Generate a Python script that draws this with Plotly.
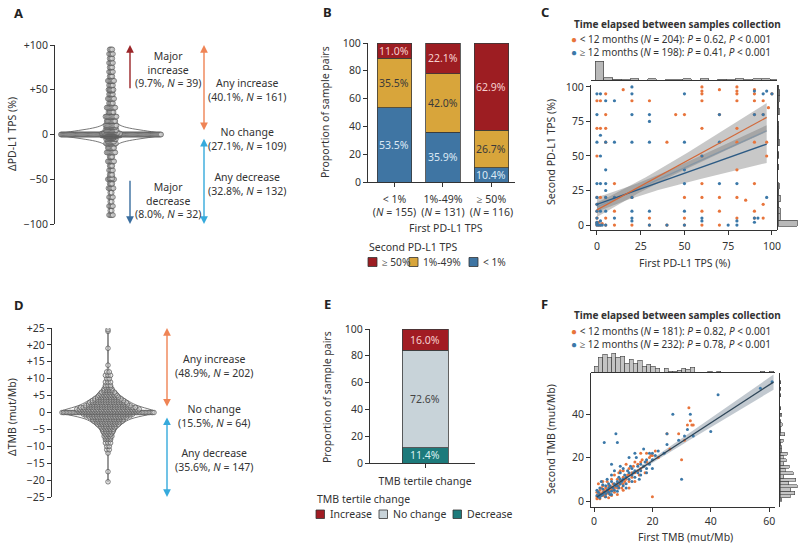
import numpy as np
import plotly.graph_objects as go

W, H = 800, 548
FONT = "Noto Sans"
INK = "#333333"
FS = 10.5

# ---------------- Panel A : change in PD-L1 TPS (value, number of pairs)
a_delta = [-90, -85, -80, -75, -70, -65, -60, -55, -50, -49, -45, -40, -35, -30, -25, -20, -15, -10, -8, -5, -4, -3, -2, -1,
           0, 1, 2, 3, 4, 5, 8, 10, 15, 20, 25, 30, 35, 40, 45, 49, 50, 55, 60, 65, 70, 75, 80, 85, 90, 95]
a_count = [4, 2, 4, 2, 4, 2, 5, 3, 6, 3, 3, 4, 3, 6, 3, 8, 6, 9, 6, 9, 5, 7, 10, 18,
           109, 20, 12, 8, 6, 10, 8, 10, 8, 10, 5, 8, 4, 6, 4, 3, 5, 4, 6, 3, 4, 3, 4, 3, 4, 3]
a_ticks = [-100, -50, 0, 50, 100]
a_ticktext = ["\u2212100", "\u221250", "0", "+50", "+100"]
a_major_up = ("Major<br>increase<br>(9.7%, <i>N</i> = 39)", 50, 100)
a_major_down = ("Major<br>decrease<br>(8.0%, <i>N</i> = 32)", -50, -100)
a_any_up = ("Any increase<br>(40.1%, <i>N</i> = 161)", 3, 100)
a_nochange = "No change<br>(27.1%, <i>N</i> = 109)"
a_any_down = ("Any decrease<br>(32.8%, <i>N</i> = 132)", -3, -100)

# ---------------- Panel B : PD-L1 TPS category transitions (%)
b_categories = ["&lt; 1%<br>(<i>N</i> = 155)", "1%-49%<br>(<i>N</i> = 131)", "\u2265 50%<br>(<i>N</i> = 116)"]
b_lt1 = [53.5, 35.9, 10.4]
b_1to49 = [35.5, 42.0, 26.7]
b_ge50 = [11.0, 22.1, 62.9]
b_legend = ["\u2265 50%", "1%-49%", "&lt; 1%"]

# ---------------- Panel C : first vs second PD-L1 TPS (first, second, count)
c_lt12_first = [0, 0, 0, 0, 0, 0, 0, 0, 0, 0, 1, 1, 2, 2, 2, 2, 3, 5, 5, 5, 5, 5, 5, 5, 10, 10, 10, 10, 15, 20, 20, 20,
                30, 30, 30, 40, 40, 45, 50, 50, 50, 50, 60, 60, 60, 60, 60, 60, 60, 60, 60, 60, 70, 70, 70, 70, 70,
                80, 80, 80, 80, 80, 80, 80, 80, 80, 85, 90, 90, 90, 90, 90, 90, 90, 90, 95, 95, 95, 95, 97, 97, 100, 98]
c_lt12_second = [0, 1, 2, 5, 10, 15, 20, 50, 70, 90, 0, 2, 0, 20, 90, 70, 1, 0, 5, 20, 80, 95, 70, 60, 0, 10, 30, 20, 98, 90, 20, 0,
                 0, 5, 90, 60, 0, 80, 80, 20, 5, 0, 100, 97, 95, 90, 70, 50, 30, 20, 10, 0, 98, 80, 20, 10, 0,
                 100, 97, 95, 90, 70, 60, 40, 20, 5, 18, 98, 95, 90, 80, 60, 30, 10, 5, 90, 80, 15, 5, 50, 60, 95, 85]
c_lt12_n = [50, 6, 4, 5, 4, 3, 2, 2, 2, 2, 8, 3, 4, 2, 1, 1, 2, 3, 2, 1, 1, 1, 1, 1, 2, 2, 1, 1, 1, 1, 1, 1,
            3, 2, 1, 1, 1, 1, 1, 1, 1, 2, 1, 1, 1, 1, 1, 1, 1, 1, 1, 2, 1, 1, 1, 1, 1,
            1, 1, 1, 1, 1, 1, 1, 1, 1, 1, 1, 1, 1, 1, 1, 1, 1, 1, 1, 1, 1, 1, 1, 1, 1, 1]
c_ge12_first = [0, 0, 0, 0, 0, 0, 0, 0, 0, 0, 0, 1, 2, 2, 2, 2, 2, 2, 3, 2, 5, 5, 5, 5, 5, 5, 5, 5, 10, 10, 10, 10,
                20, 20, 20, 20, 20, 20, 20, 20, 30, 30, 30, 30, 30, 40, 50, 50, 50, 50, 50, 50, 60, 60, 60, 70, 70, 70, 75,
                80, 80, 80, 90, 90, 90, 90, 92, 95, 95, 97, 97, 100]
c_ge12_second = [0, 1, 2, 5, 10, 15, 20, 30, 60, 80, 95, 0, 0, 10, 30, 50, 65, 95, 0, 3, 0, 20, 25, 30, 40, 60, 90, 10, 20, 5, 90, 60,
                 100, 95, 80, 60, 20, 10, 5, 3, 80, 75, 60, 10, 0, 0, 95, 60, 30, 40, 10, 0, 50, 5, 3, 60, 30, 80, 0,
                 30, 3, 0, 97, 80, 5, 2, 5, 95, 80, 20, 97, 95]
c_ge12_n = [42, 5, 4, 4, 4, 3, 3, 2, 2, 2, 1, 6, 4, 2, 1, 1, 1, 1, 3, 2, 3, 2, 1, 1, 1, 1, 1, 1, 1, 1, 1, 1,
            1, 1, 1, 1, 1, 1, 1, 1, 1, 1, 1, 1, 1, 1, 1, 1, 1, 1, 1, 1, 1, 1, 1, 1, 1, 1, 1,
            1, 1, 1, 1, 1, 1, 1, 1, 1, 1, 1, 1, 1]
c_fit_lt12 = (11.0, 0.69)   # intercept, slope
c_fit_ge12 = (15.0, 0.45)
c_fit_all = (13.0, 0.57)
c_fit_xmax = 97
c_legend = ["&lt; 12 months (<i>N</i> = 204): <i>P</i> = 0.62, <i>P</i> &lt; 0.001",
            "\u2265 12 months (<i>N</i> = 198): <i>P</i> = 0.41, <i>P</i> &lt; 0.001"]

# ---------------- Panel D : change in TMB (value, number of pairs)
d_delta = [-20.5, -17.5, -12, -11, -10, -9, -8, -7.5, -7, -6.5, -6, -5.5, -5, -4.5, -4, -3.5, -3, -2.5, -2, -1.5, -1, -0.5,
           0, 0.5, 1, 1.5, 2, 2.5, 3, 3.5, 4, 4.5, 5, 5.5, 6, 6.5, 7, 7.5, 8, 9, 10, 11, 12, 14, 19, 24, 24.5]
d_count = [1, 1, 1, 2, 2, 3, 3, 3, 4, 3, 4, 5, 5, 6, 7, 9, 10, 12, 13, 15, 18, 20,
           64, 24, 25, 22, 18, 16, 15, 13, 11, 9, 8, 7, 6, 4, 4, 3, 3, 3, 2, 3, 2, 1, 1, 1, 1]
d_ticks = [-25, -20, -15, -10, -5, 0, 5, 10, 15, 20, 25]
d_ticktext = ["\u221225", "\u221220", "\u221215", "\u221210", "\u22125", "0", "+5", "+10", "+15", "+20", "+25"]
d_any_up = ("Any increase<br>(48.9%, <i>N</i> = 202)", 1.3, 25)
d_nochange = "No change<br>(15.5%, <i>N</i> = 64)"
d_any_down = ("Any decrease<br>(35.6%, <i>N</i> = 147)", -1.0, -25)

# ---------------- Panel E : TMB tertile change (%)
e_category = ["TMB tertile change"]
e_decrease = [11.4]
e_nochange = [72.6]
e_increase = [16.0]
e_legend = ["Increase", "No change", "Decrease"]

# ---------------- Panel F : first vs second TMB (mut/Mb)
f_lt12_first = [1, 1, 1.5, 1.5, 2, 2, 2, 2.5, 2.5, 3, 3, 3, 3.5, 3.5, 4, 4, 4, 4.5, 4.5, 5, 5, 5, 5.5, 5.5, 6, 6, 6, 6.5, 6.5,
                7, 7, 7, 7, 7.5, 8, 8, 8, 8.5, 8.5, 9, 9, 9.5, 10, 10, 10, 10.5, 11, 11, 11.5, 12, 12, 12, 13, 13, 13.5,
                14, 14, 15, 15, 15.5, 16, 16, 16.5, 17, 17.5, 18, 18, 19, 19.5, 20, 20, 21, 22, 25, 26, 29, 30, 31, 32,
                32.5, 33, 33.5, 34, 3, 5, 8, 9, 12, 14, 16, 2, 1, 1.2, 3.8, 6, 10]
f_lt12_second = [2, 4, 3, 8, 2, 5, 3.5, 3, 6, 2.5, 4, 7, 3, 5, 3, 4.5, 6, 4, 9, 3.5, 5, 7, 4.5, 6, 5, 6.5, 10, 5.5, 8,
                 4, 6, 7.5, 12, 6.5, 6, 8, 10, 7, 13, 8, 9.5, 6, 8, 11, 14, 9, 10, 17, 12, 9, 12, 15, 11, 13, 16,
                 13, 18, 14, 17, 12, 15, 18, 19, 16, 13, 18, 22, 20, 21, 2, 21, 23, 20, 31, 24, 31, 19, 28, 35,
                 43, 37, 35, 35, 9, 1.5, 3, 14, 6, 9, 22, 1, 1, 2.5, 2, 2.5, 5]
f_ge12_first = [1, 1, 1.5, 1.5, 2, 2, 2.5, 2.5, 3, 3, 3.5, 3.5, 4, 4, 4.5, 4.5, 5, 5, 5, 5.5, 5.5, 6, 6, 6, 6.5, 7, 7, 7,
                7.5, 7.5, 8, 8, 8, 8.5, 8.5, 9, 9, 9, 9.5, 10, 10, 10, 10.5, 11, 11, 11.5, 12, 12, 12.5, 13, 13, 13,
                13.5, 14, 14, 14.5, 15, 15, 15.5, 16, 16, 17, 17, 17.5, 18, 18, 19, 19, 20, 20, 21, 22, 24, 25, 25,
                27, 29, 30, 31, 32, 33, 34, 40, 42.5, 57, 61, 2, 4, 6, 8, 11, 16, 18, 12, 6, 3, 9, 14, 20]
f_ge12_second = [2.5, 5, 2, 4, 3, 6, 2.5, 9, 3, 5.5, 4, 27, 3.5, 7, 5, 10, 4, 6, 8, 3, 7, 4.5, 9, 12, 6, 5, 8, 14,
                 7, 31, 7, 9, 27, 6, 11, 8, 13, 10, 9, 7, 10, 15, 12, 8, 11, 14, 10, 13, 16, 9, 12, 15,
                 13, 11, 14, 20, 13, 16, 10, 14, 17, 16, 24, 18, 15, 19, 17, 22, 19, 22, 21, 23, 22, 26, 31,
                 40, 28, 10, 30, 33, 40, 30, 32, 49, 52, 55, 1.5, 2, 3, 4.5, 6, 12, 13, 20, 17, 7.5, 16, 22, 15]
f_fit_all = (1.0, 0.875)
f_fit_xmin, f_fit_xmax = 1, 61.5
f_legend = ["&lt; 12 months (<i>N</i> = 181): <i>P</i> = 0.82, <i>P</i> &lt; 0.001",
            "\u2265 12 months (<i>N</i> = 232): <i>P</i> = 0.78, <i>P</i> &lt; 0.001"]

# ---------------- colours
RED, GOLD, BLUE = "#9d1d22", "#d8a53b", "#3f75a3"
E_RED, E_GREY, E_TEAL = "#a11c23", "#c8d3d9", "#1d7a7b"
ORANGE, SBLUE = "#e8743b", "#3b78a8"


def dx(p0, p1):
    return [p0 / W, p1 / W]


def dy(top, bottom):
    return [1 - bottom / H, 1 - top / H]


def txt(x, y, s, size=FS, xanchor="center", yanchor="middle", color=INK, angle=0, bold=False, align="center"):
    return dict(xref="paper", yref="paper", x=x / W, y=1 - y / H, text=("<b>%s</b>" % s) if bold else s,
                showarrow=False, xanchor=xanchor, yanchor=yanchor, textangle=angle, align=align,
                font=dict(family=FONT, size=size, color=color))


def arrow(xr, yr, x, y0, y1, color, both=False):
    return dict(xref=xr, yref=yr, axref=xr, ayref=yr, x=x, y=y1, ax=x, ay=y0, text="", showarrow=True,
                arrowhead=2, arrowsize=1.1, arrowwidth=1.4, arrowcolor=color,
                arrowside="end+start" if both else "end", standoff=0, startstandoff=0)


def swarm(vals, cnts, spacing, cap_zero, cap):
    xs, ys = [], []
    for v, n in zip(vals, cnts):
        half = min((n - 1) * spacing / 2.0, cap_zero if v == 0 else cap)
        offs = np.linspace(-half, half, n) if n > 1 else np.array([0.0])
        xs.extend(offs.tolist())
        ys.extend([v] * n)
    return xs, ys


def ci_band(xs, ys, ns, fit, grid):
    xs, ys, ns = np.asarray(xs, float), np.asarray(ys, float), np.asarray(ns, float)
    a, b = fit
    n = ns.sum()
    xm = (ns * xs).sum() / n
    sxx = (ns * (xs - xm) ** 2).sum()
    s = np.sqrt((ns * (ys - (a + b * xs)) ** 2).sum() / (n - 2))
    hw = 1.96 * s * np.sqrt(1.0 / n + (grid - xm) ** 2 / sxx)
    mid = a + b * grid
    return mid - hw, mid + hw


def bar_labels(xref, yref, positions, segments, colors):
    out = []
    base = np.zeros(len(positions))
    for vals, col in zip(segments, colors):
        for i, (p, v) in enumerate(zip(positions, vals)):
            out.append(dict(xref=xref, yref=yref, x=p, y=base[i] + v / 2.0, text="%.1f%%" % v, showarrow=False,
                            font=dict(family=FONT, size=FS, color=col)))
        base = base + np.asarray(vals)
    return out


fig = go.Figure()
ann = []
shapes = []

# ================= Panel A
a_vals = np.repeat(a_delta, a_count)
fig.add_trace(go.Violin(x0=0, y=a_vals, xaxis="x", yaxis="y", width=100, bandwidth=4, spanmode="hard",
                        points=False, line=dict(color="#555", width=0.8), fillcolor="rgba(255,255,255,0)",
                        box_visible=False, meanline_visible=False, showlegend=False, hoverinfo="skip"))
ax_, ay_ = swarm(a_delta, a_count, 1.2, 50, 9)
fig.add_trace(go.Scatter(x=ax_, y=ay_, xaxis="x", yaxis="y", mode="markers", showlegend=False,
                         marker=dict(size=5, color="rgba(215,215,215,0.55)", line=dict(color="#555", width=0.7))))
ann += [arrow("x", "y", 19, a_major_up[1], a_major_up[2], "#9b2528"),
        arrow("x", "y", 19, a_major_down[1], a_major_down[2], "#3a6e9f"),
        arrow("x", "y", 93, a_any_up[1], a_any_up[2], "#ef8455", both=True),
        arrow("x", "y", 93, a_any_down[1], a_any_down[2], "#36aadc", both=True)]
ann += [txt(168, 69, a_major_up[0]), txt(168, 200, a_major_down[0]),
        txt(247, 90, a_any_up[0]), txt(247, 138.5, a_nochange), txt(247, 183.5, a_any_down[0]),
        txt(12, 134, "\u0394PD-L1 TPS (%)", angle=-90)]

# ================= Panel B
b_segments = [b_lt1, b_1to49, b_ge50]
b_colors = [BLUE, GOLD, RED]
b_textcolors = ["#dce9f5", "#3a3a3a", "#f6d0d0"]
for vals, col in zip(b_segments, b_colors):
    fig.add_trace(go.Bar(x=[0, 1, 2], y=vals, xaxis="x2", yaxis="y2", width=0.72, showlegend=False,
                         marker=dict(color=col, line=dict(color="#3a3a3a", width=0.8))))
ann += bar_labels("x2", "y2", [0, 1, 2], b_segments, b_textcolors)
ann += [txt(325, 112, "Proportion of sample pairs", angle=-90), txt(446, 228, "First PD-L1 TPS"),
        txt(367, 247, "Second PD-L1 TPS", xanchor="left")]
for (x0, x1, tx), lab, col in zip([(368, 377, 380), (409, 418, 421), (469, 478, 481)], b_legend, [RED, GOLD, BLUE]):
    shapes.append(dict(type="rect", xref="paper", yref="paper", x0=x0 / W, x1=x1 / W, y0=1 - 266.5 / H,
                       y1=1 - 257.5 / H, fillcolor=col, line=dict(color="#333", width=0.8)))
    ann.append(txt(tx, 262, lab, size=10.2, xanchor="left"))

# ================= Panel C
grid_c = np.linspace(0, c_fit_xmax, 60)
for xs, ys, ns, fit in [(c_ge12_first, c_ge12_second, c_ge12_n, c_fit_ge12),
                        (c_lt12_first, c_lt12_second, c_lt12_n, c_fit_lt12)]:
    lo, hi = ci_band(xs, ys, ns, fit, grid_c)
    fig.add_trace(go.Scatter(x=np.r_[grid_c, grid_c[::-1]], y=np.r_[lo, hi[::-1]], xaxis="x3", yaxis="y3",
                             fill="toself", fillcolor="rgba(110,110,110,0.38)", line=dict(width=0),
                             mode="lines", showlegend=False, hoverinfo="skip"))
fig.add_trace(go.Scatter(x=c_lt12_first, y=c_lt12_second, xaxis="x3", yaxis="y3", mode="markers", showlegend=False,
                         marker=dict(size=3.2, color=ORANGE)))
fig.add_trace(go.Scatter(x=c_ge12_first, y=c_ge12_second, xaxis="x3", yaxis="y3", mode="markers", showlegend=False,
                         marker=dict(size=3.2, color=SBLUE)))
for fit, col in [(c_fit_all, "#8797a6"), (c_fit_ge12, "#2d5b84"), (c_fit_lt12, "#d2693a")]:
    fig.add_trace(go.Scatter(x=grid_c, y=fit[0] + fit[1] * grid_c, xaxis="x3", yaxis="y3", mode="lines",
                             line=dict(color=col, width=1.3), showlegend=False, hoverinfo="skip"))
c_all_first = c_lt12_first + c_ge12_first
c_all_second = c_lt12_second + c_ge12_second
c_all_n = c_lt12_n + c_ge12_n
fig.add_trace(go.Histogram(x=c_all_first, y=c_all_n, histfunc="sum", xaxis="x4", yaxis="y4", showlegend=False,
                           xbins=dict(start=-1, end=104, size=5),
                           marker=dict(color="#b9b9b9", line=dict(color="#444", width=0.7))))
fig.add_trace(go.Histogram(y=c_all_second, x=c_all_n, histfunc="sum", orientation="h", xaxis="x5", yaxis="y5",
                           showlegend=False, ybins=dict(start=-1, end=104, size=4.5),
                           marker=dict(color="#b9b9b9", line=dict(color="#444", width=0.7))))
LEG_FS = 10
ann += [txt(677, 24, "Time elapsed between samples collection", size=LEG_FS, bold=True),
        txt(569, 45.5, "<span style='color:%s'>\u25cf</span> %s<br><span style='color:%s'>\u25cf</span> %s"
            % (ORANGE, c_legend[0], SBLUE, c_legend[1]), size=LEG_FS, xanchor="left", align="left"),
        txt(551, 152, "Second PD-L1 TPS (%)", angle=-90), txt(684, 263, "First PD-L1 TPS (%)")]

# ================= Panel D
d_vals = np.repeat(d_delta, d_count)
fig.add_trace(go.Violin(x0=0, y=d_vals, xaxis="x6", yaxis="y6", width=94, bandwidth=0.9, spanmode="hard",
                        points=False, line=dict(color="#555", width=0.8), fillcolor="rgba(255,255,255,0)",
                        box_visible=False, meanline_visible=False, showlegend=False, hoverinfo="skip"))
dx_, dy_ = swarm(d_delta, d_count, 2.6, 46, 40)
fig.add_trace(go.Scatter(x=dx_, y=dy_, xaxis="x6", yaxis="y6", mode="markers", showlegend=False,
                         marker=dict(size=4.6, color="rgba(215,215,215,0.55)", line=dict(color="#555", width=0.7))))
ann += [arrow("x6", "y6", 59, d_any_up[1], d_any_up[2], "#ef8455", both=True),
        arrow("x6", "y6", 59, d_any_down[1], d_any_down[2], "#36aadc", both=True)]
ann += [txt(214, 366, d_any_up[0]), txt(214, 415.5, d_nochange), txt(214, 460, d_any_down[0]),
        txt(12, 417, "\u0394TMB (mut/Mb)", angle=-90)]

# ================= Panel E
e_segments = [e_decrease, e_nochange, e_increase]
e_colors = [E_TEAL, E_GREY, E_RED]
e_textcolors = ["#d8efef", "#444", "#f6d0d0"]
for vals, col in zip(e_segments, e_colors):
    fig.add_trace(go.Bar(x=[0], y=vals, xaxis="x7", yaxis="y7", width=0.72, showlegend=False,
                         marker=dict(color=col, line=dict(color="#3a3a3a", width=0.8))))
ann += bar_labels("x7", "y7", [0], e_segments, e_textcolors)
ann += [txt(327, 397, "Proportion of sample pairs", angle=-90),
        txt(315, 499, "TMB tertile change", xanchor="left")]
for (x0, x1, tx), lab, col in zip([(316, 324.5, 328), (379, 387.5, 391), (453, 461.5, 465)], e_legend,
                                  [E_RED, E_GREY, E_TEAL]):
    shapes.append(dict(type="rect", xref="paper", yref="paper", x0=x0 / W, x1=x1 / W, y0=1 - 518.5 / H,
                       y1=1 - 510 / H, fillcolor=col, line=dict(color="#333", width=0.8)))
    ann.append(txt(tx, 514, lab, xanchor="left"))

# ================= Panel F
f_all_first = f_lt12_first + f_ge12_first
f_all_second = f_lt12_second + f_ge12_second
grid_f = np.linspace(f_fit_xmin, f_fit_xmax, 60)
lo, hi = ci_band(f_all_first, f_all_second, [1] * len(f_all_first), f_fit_all, grid_f)
fig.add_trace(go.Scatter(x=np.r_[grid_f, grid_f[::-1]], y=np.r_[lo, hi[::-1]], xaxis="x8", yaxis="y8",
                         fill="toself", fillcolor="rgba(120,135,150,0.45)", line=dict(width=0),
                         mode="lines", showlegend=False, hoverinfo="skip"))
fig.add_trace(go.Scatter(x=f_lt12_first, y=f_lt12_second, xaxis="x8", yaxis="y8", mode="markers", showlegend=False,
                         marker=dict(size=3, color=ORANGE)))
fig.add_trace(go.Scatter(x=f_ge12_first, y=f_ge12_second, xaxis="x8", yaxis="y8", mode="markers", showlegend=False,
                         marker=dict(size=3, color=SBLUE)))
fig.add_trace(go.Scatter(x=grid_f, y=f_fit_all[0] + f_fit_all[1] * grid_f, xaxis="x8", yaxis="y8", mode="lines",
                         line=dict(color="#2f4658", width=1.3), showlegend=False, hoverinfo="skip"))
fig.add_trace(go.Histogram(x=f_all_first, xaxis="x9", yaxis="y9", showlegend=False,
                           xbins=dict(start=0, end=62, size=1.5),
                           marker=dict(color="#c4c4c4", line=dict(color="#444", width=0.6))))
fig.add_trace(go.Histogram(y=f_all_second, orientation="h", xaxis="x10", yaxis="y10", showlegend=False,
                           ybins=dict(start=0, end=60, size=1.5),
                           marker=dict(color="#c4c4c4", line=dict(color="#444", width=0.6))))
ann += [txt(677, 315, "Time elapsed between samples collection", size=LEG_FS, bold=True),
        txt(569, 337, "<span style='color:%s'>\u25cf</span> %s<br><span style='color:%s'>\u25cf</span> %s"
            % (ORANGE, f_legend[0], SBLUE, f_legend[1]), size=LEG_FS, xanchor="left", align="left"),
        txt(551, 439, "Second TMB (mut/Mb)", angle=-90), txt(685, 537, "First TMB (mut/Mb)")]

# ================= panel letters
for lab, x, y in [("A", 12, 12.5), ("B", 321, 12), ("C", 539, 12), ("D", 12, 305), ("E", 322, 304), ("F", 539, 304)]:
    ann.append(txt(x, y, lab, size=13, xanchor="left", color="#222", bold=True))

axis = dict(showline=True, linecolor="#333", linewidth=1, ticks="outside", ticklen=4, tickwidth=1,
            tickcolor="#333", showgrid=False, zeroline=False, fixedrange=True, automargin=False,
            tickfont=dict(family=FONT, size=FS, color=INK))
hidden = dict(visible=False, showgrid=False, zeroline=False, fixedrange=True, automargin=False)
bare = dict(showline=True, linecolor="#333", linewidth=1, showticklabels=False, ticks="", showgrid=False,
            zeroline=False, fixedrange=True, automargin=False)

layout = dict(
    width=W, height=H, autosize=False, margin=dict(l=0, r=0, t=0, b=0, pad=0),
    paper_bgcolor="white", plot_bgcolor="white", barmode="stack", showlegend=False,
    font=dict(family=FONT, size=FS, color=INK),
    annotations=ann, shapes=shapes,
    # A
    xaxis=dict(domain=dx(55, 290), range=[-56, 179], type="linear", anchor="y", **hidden),
    yaxis=dict(domain=dy(45, 224), range=[-100, 100], anchor="x", tickvals=a_ticks, ticktext=a_ticktext, **axis),
    # B
    xaxis2=dict(domain=dx(368, 515), range=[-0.546, 2.485], anchor="y2", tickvals=[0, 1, 2],
                ticktext=b_categories, ticklabelstandoff=3, **axis),
    yaxis2=dict(domain=dy(43, 182), range=[0, 100], anchor="x2", tickvals=[0, 20, 40, 60, 80, 100],
                ticksuffix="%", **axis),
    # C
    xaxis3=dict(domain=dx(591, 777), range=[-3.4, 102.9], anchor="y3", tickvals=[0, 25, 50, 75, 100],
                ticklabelstandoff=2, **axis),
    yaxis3=dict(domain=dy(85, 230), range=[-3.6, 101.4], anchor="x3", tickvals=[0, 25, 50, 75, 100], **axis),
    xaxis4=dict(domain=dx(591, 777), matches="x3", anchor="y4", **bare),
    yaxis4=dict(domain=dy(60, 80), anchor="x4", rangemode="tozero", **hidden),
    xaxis5=dict(domain=dx(778, 798), anchor="y5", rangemode="tozero", **hidden),
    yaxis5=dict(domain=dy(85, 230), matches="y3", anchor="x5", **bare),
    # D
    xaxis6=dict(domain=dx(52, 290), range=[-56, 182], type="linear", anchor="y6", **hidden),
    yaxis6=dict(domain=dy(328, 497), range=[-25, 25], anchor="x6", tickvals=d_ticks, ticktext=d_ticktext, **axis),
    # E
    xaxis7=dict(domain=dx(370, 475), range=[-0.86, 0.78], anchor="y7", tickvals=[0], ticktext=e_category,
                ticklabelstandoff=4, **axis),
    yaxis7=dict(domain=dy(329, 463), range=[0, 100], anchor="x7", tickvals=[0, 20, 40, 60, 80, 100],
                ticksuffix="%", **axis),
    # F
    xaxis8=dict(domain=dx(591, 775), range=[-1.03, 62.0], anchor="y8", tickvals=[0, 20, 40, 60], **axis),
    yaxis8=dict(domain=dy(373, 507), range=[-2.76, 59], anchor="x8", tickvals=[0, 20, 40], **axis),
    xaxis9=dict(domain=dx(591, 775), matches="x8", anchor="y9", **bare),
    yaxis9=dict(domain=dy(352, 372), anchor="x9", rangemode="tozero", **hidden),
    xaxis10=dict(domain=dx(780, 798), anchor="y10", rangemode="tozero", **hidden),
    yaxis10=dict(domain=dy(373, 507), matches="y8", anchor="x10", **bare),
)
fig.update_layout(**layout)
fig.write_html("out.html", config=dict(displayModeBar=False, staticPlot=True),
               post_script="document.body.style.margin='0';document.body.style.padding='0';"
                           "document.documentElement.style.overflow='hidden';")
